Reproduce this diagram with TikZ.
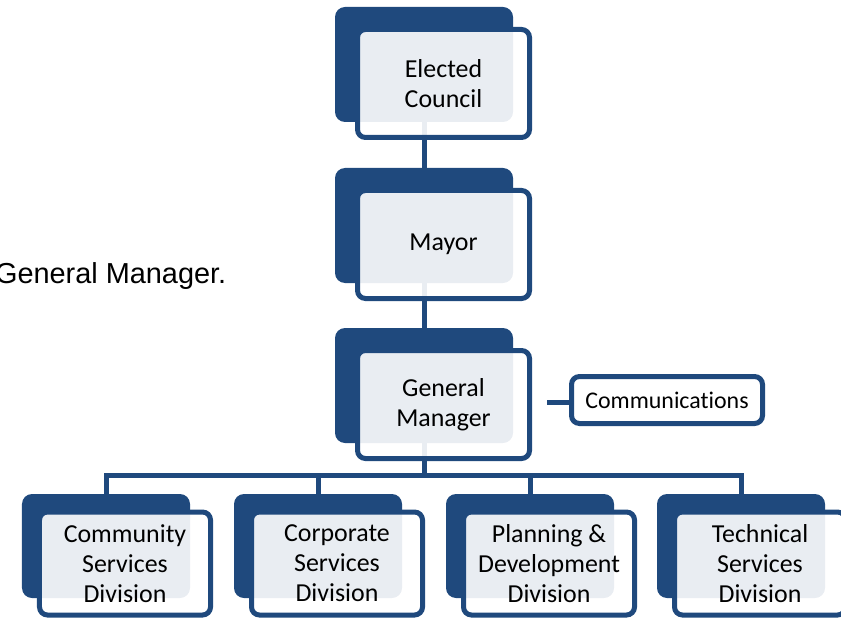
\documentclass[tikz,border=0pt]{standalone}
\usepackage{fontspec}
\setmainfont{Carlito}[Ligatures=NoCommon]
\newfontfamily\introfont{Liberation Sans}
\usetikzlibrary{backgrounds}
\definecolor{orgblue}{RGB}{31,73,125}
\tikzset{
  backbox/.style={rectangle, rounded corners=10bp, fill=orgblue, minimum width=178bp, minimum height=115bp, inner sep=0pt},
  frontbox/.style={rectangle, rounded corners=8bp, draw=orgblue, line width=5bp, fill=white, fill opacity=0.9, text opacity=1, minimum width=172bp, minimum height=108bp, inner sep=0pt, align=center, font=\fontsize{26}{30}\selectfont},
  link/.style={draw=orgblue, line width=5bp}
}

\begin{document}
\begin{tikzpicture}[x=1bp, y=-1bp]
\useasboundingbox (0,0) rectangle (841,621);
\node[anchor=base east, inner sep=0pt, font=\introfont\fontsize{29}{34}\selectfont] (intro) at (226.5,283) {General Manager.};
\node[backbox] (council-b) at (424,64.5) {};
\node[frontbox] (council) at (443.5,83.5) {Elected\\Council};
\node[backbox] (mayor-b) at (424,225.5) {};
\node[frontbox] (mayor) at (443.5,244.5) {Mayor};
\node[backbox] (gm-b) at (424,385.5) {};
\node[frontbox] (gm) at (443.5,404.5) {General\\Manager};
\node[frontbox, minimum width=191bp, minimum height=47bp, font=\fontsize{24}{28}\selectfont] (comm) at (667,400) {Communications};
\foreach \name/\x/\txt in {community/106/{Community\\Services\\Division}, corporate/318/{Corporate\\Services\\Division}, planning/530/{Planning \&\\Development\\Division}, technical/741/{Technical\\Services\\Division}} {
	\node[backbox, minimum width=168bp, minimum height=104bp] (\name-b) at (\x,546) {};
	\node[frontbox, minimum width=171bp, minimum height=103bp] (\name) at (\x+19,563.5) {\txt};
	};
\begin{scope}[on background layer]
\draw[link] (council-b) -- (mayor-b);
\draw[link] (mayor-b) -- (gm-b);
\coordinate (bus) at (424,475.5);
\draw[link] (gm-b) -- (bus);
\foreach \name in {community, corporate, planning, technical} {
	\draw[link] (bus) -| (\name-b);
	};
\coordinate (commlink) at (547,402);
\draw[link] (commlink) -- (commlink -| comm.west);
\end{scope}
\end{tikzpicture}
\end{document}
